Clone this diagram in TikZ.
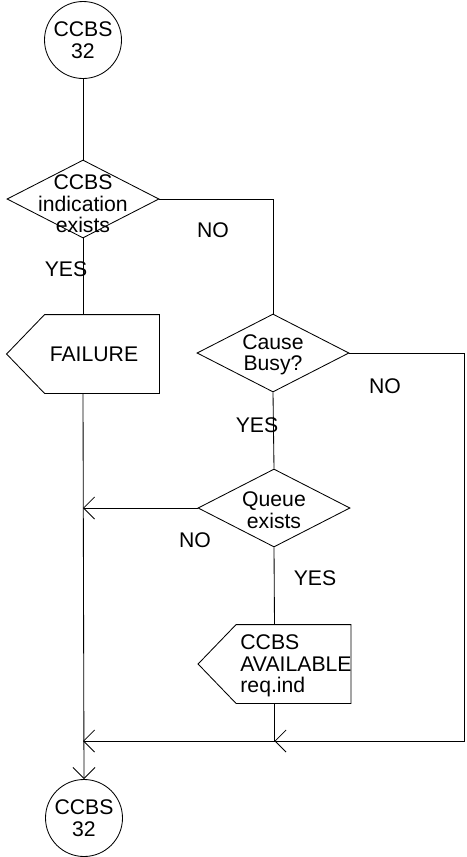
\documentclass[tikz,border=0pt]{standalone}
\usepackage{fontspec}
\setmainfont{Liberation Sans}
\usetikzlibrary{shapes.geometric,arrows.meta}
\begin{document}
\begin{tikzpicture}[x=1pt,y=-1pt, line width=0.85pt,
  every node/.style={font=\fontsize{21.2}{21.5}\selectfont, inner sep=0pt},
  connector/.style={circle, draw, minimum size=77pt, align=center},
  decision/.style={diamond, draw, minimum width=152pt, minimum height=78pt},
  sendsig/.style={rectangle, minimum width=152pt, minimum height=78pt},
  tip/.style={-{Straight Barb[length=11pt,width=22pt]}},
  branch/.style={}
]
\useasboundingbox (0,0) rectangle (466,857);

% symbols
\node[connector] (top) at (83,40) {CCBS\\32};
\node[decision] (ind) at (83,199) {};
\node[align=center] (indtext) at (83,204) {CCBS\\indication\\exists};
\node[sendsig] (fail) at (83,354) {};
\node (failtext) at (94,354) {FAILURE};
\node[decision] (busy) at (273,353) {};
\node[align=center] (busytext) at (273,355) {Cause\\Busy?};
\node[decision] (queue) at (274,508) {};
\node[align=center] (queuetext) at (274,510) {Queue\\exists};
\node[sendsig] (avail) at (274.5,664) {};
\node[align=left, anchor=west] (availtext) at (240,666) {CCBS\\AVAILABLE\\req.ind};
\node[connector] (bot) at (84,818) {CCBS\\32};

% output signal outlines (pointed to the left)
\foreach \s in {fail,avail}
  \draw (\s.north east) -- (\s.south east) -- ([xshift=38pt]\s.south west)
        -- (\s.west) -- ([xshift=38pt]\s.north west) -- cycle;

% branch labels
\node[branch] (noind) at (213,230) {NO};
\node[branch] (yesind) at (66,269) {YES};
\node[branch] (nobusy) at (385,386) {NO};
\node[branch] (yesbusy) at (257,425) {YES};
\node[branch] (noqueue) at (195,540) {NO};
\node[branch] (yesqueue) at (315,578) {YES};

% flow lines
\coordinate (rc) at (464,741);
\draw (top) -- (ind);
\draw (ind.east) -| (busy.north);
\draw (ind.south) -- (fail.north);
\draw (busy.south) -- (queue.north);
\draw (queue.south) -- (avail.north);
\draw[tip] (fail.south) -- (bot.north);
\draw[tip] (queue.west) -- (fail.south |- queue.west);
\draw[tip] (busy.east) -| (rc) -- (avail.south |- rc);
\draw (avail.south) -- (avail.south |- rc);
\draw[tip] (avail.south |- rc) -- (fail.south |- rc);
\end{tikzpicture}
\end{document}
